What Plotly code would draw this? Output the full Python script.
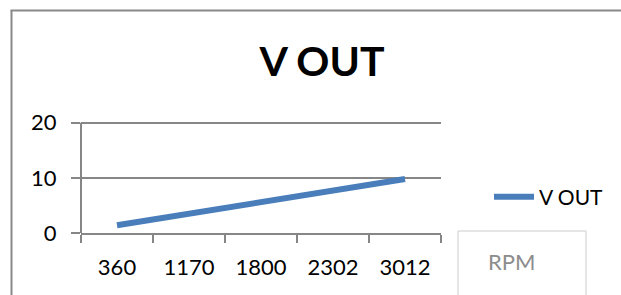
import plotly.graph_objects as go

categories = ["360", "1170", "1800", "2302", "3012"]
v_out = [1.4, 3.5, 5.8, 7.7, 9.8]
y_ticks = [0, 10, 20]

W, H = 621, 295
L, R, T, B = 81, 180, 120, 62
pw = W - L - R
ph = H - T - B

def px(x):
    return (x - L) / pw

def py(y):
    return (H - B - y) / ph

fig = go.Figure()
fig.add_trace(go.Scatter(
    x=categories, y=v_out, mode="lines", name="V OUT",
    line=dict(color="#4A7EBB", width=6),
))

axis_col = "#868686"
frame_col = "#898989"
box_col = "#DCDCDC"

def seg(x0, y0, x1, y1, color, width):
    return dict(type="line", xref="paper", yref="paper",
                x0=px(x0), y0=py(y0), x1=px(x1), y1=py(y1),
                line=dict(color=color, width=width), layer="below")

fig.update_layout(
    width=W, height=H,
    margin=dict(l=L, r=R, t=T, b=B),
    paper_bgcolor="white", plot_bgcolor="white",
    font=dict(family="Lato", color="black", size=22),
    title=dict(text="<b>V OUT</b>", font=dict(family="Lato", size=41, color="black"),
               xref="paper", x=px(322), xanchor="center",
               yref="container", y=1 - 62 / H, yanchor="middle"),
    showlegend=True,
    legend=dict(x=px(489), y=py(197), xanchor="left", yanchor="middle",
                font=dict(size=21), bgcolor="rgba(0,0,0,0)", itemwidth=40),
    xaxis=dict(type="category", range=[-0.5, 4.5], tickson="boundaries",
               ticks="outside", ticklen=8, tickcolor=axis_col, tickwidth=2,
               showline=True, linecolor=axis_col, linewidth=2, showgrid=False,
               ticklabelstandoff=14, fixedrange=True),
    yaxis=dict(range=[0, 20.5], tickvals=y_ticks, ticks="outside", ticklen=9,
               tickcolor=axis_col, tickwidth=2, showline=False,
               showgrid=True, gridcolor=axis_col, gridwidth=2,
               zeroline=False, ticklabelstandoff=10, fixedrange=True),
    shapes=[
        dict(type="line", xref="paper", yref="y", x0=0, x1=0, y0=0, y1=20,
             line=dict(color=axis_col, width=2), layer="above"),
        seg(11.5, 10.5, 11.5, 295, frame_col, 2),
        seg(10.5, 10.5, 621, 10.5, frame_col, 2),
        seg(458, 231, 458, 295, box_col, 1.5),
        seg(458, 231, 586, 231, box_col, 1.5),
        seg(586, 231, 586, 295, box_col, 1.5),
    ],
    annotations=[
        dict(text="RPM", xref="paper", yref="paper", x=px(511), y=py(261),
             xanchor="center", yanchor="middle", showarrow=False,
             font=dict(family="Lato", size=22, color="#8C8C8C")),
    ],
)

fig.write_html("out.html", config={"displayModeBar": False},
               post_script="document.documentElement.style.overflow='hidden';document.body.style.margin='0';document.body.style.overflow='hidden';")
